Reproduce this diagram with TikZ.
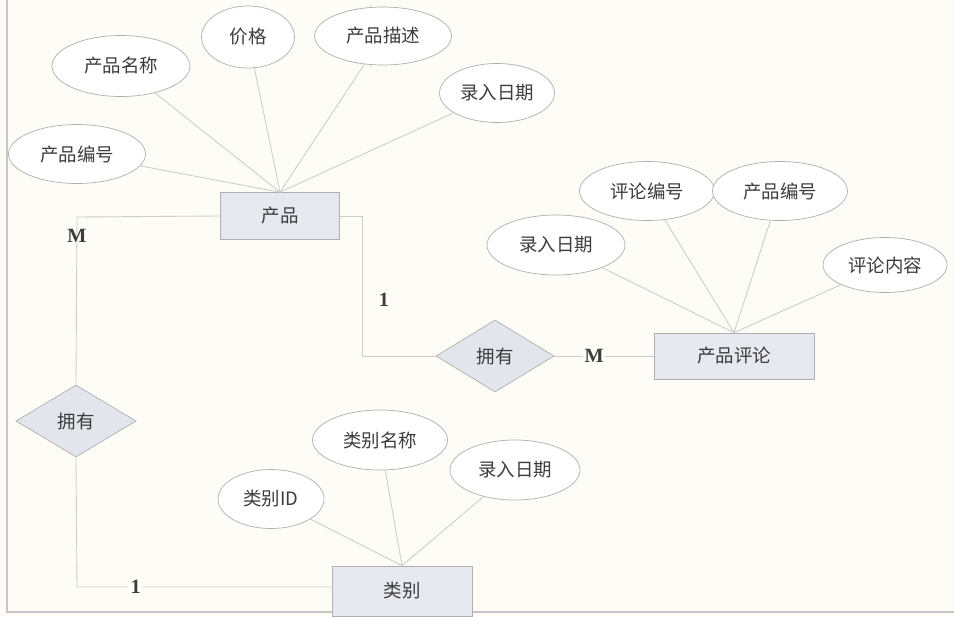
\documentclass[tikz,border=0pt]{standalone}
\usepackage{fontspec}
\usepackage{tikz}
\usetikzlibrary{shapes.geometric}
\newfontfamily\cjk{Noto Sans CJK SC}
\newfontfamily\cardfont{Liberation Serif}

\definecolor{pagebg}{RGB}{253,252,247}
\definecolor{linegray}{RGB}{205,205,205}
\definecolor{edgegray}{RGB}{175,175,175}
\definecolor{boxfill}{RGB}{230,233,240}
\definecolor{txtgray}{RGB}{60,60,60}

\tikzset{
	attr/.style={ellipse, draw=edgegray, fill=white, inner sep=0pt,
		minimum width=2.74cm, minimum height=1.18cm,
		font=\cjk\fontsize{10.5}{12}\selectfont, text=txtgray},
	entity/.style={rectangle, draw=edgegray, fill=boxfill, inner sep=0pt,
		minimum height=0.94cm, font=\cjk\fontsize{10.5}{12}\selectfont, text=txtgray},
	rel/.style={diamond, draw=edgegray, fill=boxfill!96!gray, inner sep=0pt, aspect=1.64,
		minimum width=2.36cm, minimum height=1.44cm,
		font=\cjk\fontsize{10.5}{12}\selectfont, text=txtgray},
	conn/.style={draw=linegray, line width=0.5pt},
	card/.style={font=\cardfont\bfseries\fontsize{11.5}{12}\selectfont, text=txtgray, inner sep=1pt}
}

\begin{document}
\begin{tikzpicture}[x=0.02cm, y=-0.02cm]
	\useasboundingbox [fill=pagebg] (0,0) rectangle (954,616);
	% page frame
	\draw [edgegray!70, line width=0.6pt] (7,0) -- (7,612) -- (954,612);

	% entities
	\node [entity, minimum width=2.38cm] (prod) at (280,216) {产品};
	\node [entity, minimum width=3.2cm, minimum height=0.92cm] (review) at (734,356) {产品评论};
	\node [entity, minimum width=2.8cm, minimum height=1cm] (cat) at (402,591) {类别};

	% relations
	\node [rel] (hasrev) at (495,356) {拥有};
	\node [rel, minimum width=2.4cm] (hascat) at (76,421) {拥有};

	% attributes of 产品
	\node [attr] (pid) at (77,154) {产品编号};
	\node [attr, minimum width=2.76cm, minimum height=1.22cm] (pname) at (121,66) {产品名称};
	\node [attr, minimum width=1.86cm, minimum height=1.24cm] (price) at (248,37) {价格};
	\node [attr, minimum height=1.16cm] (pdesc) at (383,36) {产品描述};
	\node [attr, minimum width=2.3cm] (pdate) at (497,93) {录入日期};
	\foreach \a in {pid,pname,price,pdesc,pdate}
		\draw [conn] (\a) -- (prod.north);

	% attributes of 产品评论
	\node [attr, minimum width=2.76cm, minimum height=1.2cm] (rdate) at (556,245) {录入日期};
	\node [attr, minimum width=2.7cm] (rid) at (647,191) {评论编号};
	\node [attr, minimum width=2.7cm] (rpid) at (780,191) {产品编号};
	\node [attr, minimum width=2.48cm, minimum height=1.1cm] (rtext) at (885,265) {评论内容};
	\foreach \a in {rdate,rid,rpid,rtext}
		\draw [conn] (\a) -- (review.north);

	% attributes of 类别
	\node [attr, minimum width=2.12cm, minimum height=1.18cm] (cid) at (271,499) {类别ID};
	\node [attr, minimum width=2.7cm, minimum height=1.2cm] (cname) at (380,440) {类别名称};
	\node [attr, minimum width=2.6cm, minimum height=1.2cm] (cdate) at (515,470) {录入日期};
	\foreach \a in {cid,cname,cdate}
		\draw [conn] (\a) -- (cat.north);

	% relationship lines
	\coordinate (c1) at (362,216);
	\coordinate (c2) at (362,356);
	\draw [conn] (prod.east) -- (c1) -- (c2) -- (hasrev.west);
	\node [card] (one1) at (384,300) {1};
	\draw [conn] (hasrev.east) -- (review.west)
		node [card, pos=0.4, fill=pagebg] (many1) {M};

	\coordinate (c3) at (77,217);
	\coordinate (c4) at (77,587);
	\draw [conn] (prod.west) -- (c3) -- (hascat.north);
	\node [card] (many2) at (77,236) {M};
	\draw [conn] (hascat.south) -- (c4) -- (c4 -| cat.west)
		node [card, pos=0.23, fill=pagebg] (one2) {1};
\end{tikzpicture}
\end{document}
